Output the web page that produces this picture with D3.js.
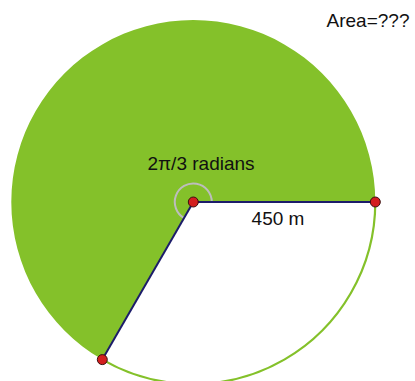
<!DOCTYPE html>
<html><head><meta charset="utf-8">
<script src="https://cdn.jsdelivr.net/npm/d3@7"></script>
<style>html,body{margin:0;padding:0;background:#fff;}svg{display:block;}</style>
</head><body>
<svg id="c" width="415" height="381"></svg>
<script>
const radiusMeters = [450];
const sectorAngles = [2 * Math.PI / 3];           // the unshaded sector angle
const labels = ["2\u03c0/3 radians", "450 m", "Area=???"];

const svg = d3.select("#c");
const cx = 193.3, cy = 202;
const r = d3.scaleLinear().domain([0, radiusMeters[0]]).range([0, 182]);
const R = r(radiusMeters[0]);
const start = Math.PI / 2;                 // 3 o'clock in d3.arc convention
const end = start + sectorAngles[0];
const g = svg.append("g").attr("transform", `translate(${cx},${cy})`);

const arc = d3.arc().innerRadius(0).outerRadius(R);
g.append("path").attr("d", arc({startAngle: end, endAngle: start + 2 * Math.PI}))
  .attr("fill", "#84c12a");
g.append("path").attr("d", d3.arc().innerRadius(R).outerRadius(R)({startAngle: start, endAngle: end}))
  .attr("fill", "none").attr("stroke", "#84c12a").attr("stroke-width", 2.2);

g.append("path").attr("d", d3.arc().innerRadius(18.5).outerRadius(18.5)({startAngle: end, endAngle: start + 2 * Math.PI}))
  .attr("fill", "none").attr("stroke", "#bdbdbd").attr("stroke-width", 2);

const pts = [start, end].map(a => [R * Math.sin(a), -R * Math.cos(a)]);
pts.forEach(p => {
  g.append("line").attr("x1", 0).attr("y1", 0).attr("x2", p[0]).attr("y2", p[1])
    .attr("stroke", "#1c1c6a").attr("stroke-width", 2);
});
[[0, 0], ...pts].forEach(p => {
  g.append("circle").attr("cx", p[0]).attr("cy", p[1]).attr("r", 5)
    .attr("fill", "#d31f1f").attr("stroke", "#3a1010").attr("stroke-width", 1);
});

const font = "Liberation Sans, Arial, sans-serif";
svg.append("text").attr("x", 201).attr("y", 170).attr("text-anchor", "middle")
  .attr("font-family", font).attr("font-size", 19).attr("fill", "#111").text(labels[0]);
svg.append("text").attr("x", 278).attr("y", 225).attr("text-anchor", "middle")
  .attr("font-family", font).attr("font-size", 19).attr("fill", "#111").text(labels[1]);
svg.append("text").attr("x", 368).attr("y", 27).attr("text-anchor", "middle")
  .attr("font-family", font).attr("font-size", 19).attr("fill", "#111").text(labels[2]);
</script>
</body></html>
